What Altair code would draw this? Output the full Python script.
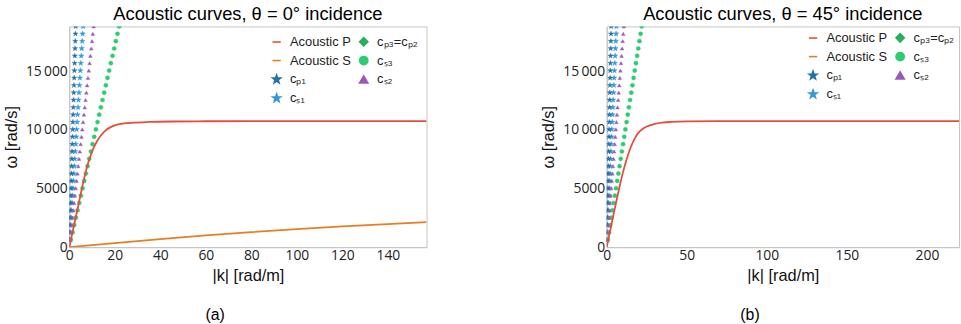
import altair as alt
import pandas as pd

# ---------------- data ----------------
omega_rows = [628, 1257, 1885, 2513, 3142, 3770, 4398, 5027, 5655, 6283,
              6912, 7540, 8168, 8796, 9425, 10053, 10681, 11310, 11938, 12566,
              13195, 13823, 14451, 15080, 15708, 16336, 16965, 17593, 18221, 18850]
k_cp1 = [0.09, 0.19, 0.28, 0.38, 0.47, 0.56, 0.66, 0.75, 0.84, 0.94,
         1.03, 1.13, 1.22, 1.31, 1.41, 1.50, 1.59, 1.69, 1.78, 1.88,
         1.97, 2.06, 2.16, 2.25, 2.34, 2.44, 2.53, 2.63, 2.72, 2.81]
k_cs1 = [0.20, 0.41, 0.61, 0.81, 1.01, 1.22, 1.42, 1.62, 1.82, 2.03,
         2.23, 2.43, 2.63, 2.84, 3.04, 3.24, 3.45, 3.65, 3.85, 4.05,
         4.26, 4.46, 4.66, 4.86, 5.07, 5.27, 5.47, 5.68, 5.88, 6.08]
k_cs2 = [0.36, 0.71, 1.07, 1.43, 1.79, 2.14, 2.50, 2.86, 3.21, 3.57,
         3.93, 4.28, 4.64, 5.00, 5.36, 5.71, 6.07, 6.43, 6.78, 7.14,
         7.50, 7.85, 8.21, 8.57, 8.93, 9.28, 9.64, 10.00, 10.35, 10.71]
k_cs3 = [0.73, 1.46, 2.19, 2.92, 3.65, 4.38, 5.11, 5.85, 6.58, 7.31,
         8.04, 8.77, 9.50, 10.23, 10.96, 11.69, 12.42, 13.15, 13.88, 14.61,
         15.34, 16.07, 16.80, 17.53, 18.26, 19.00, 19.73, 20.46, 21.19, 21.92]

# Acoustic P, theta = 0
kP_a = [0, 2, 4, 6, 8, 9, 10, 11, 12, 13, 14, 16, 18, 20, 24, 28, 35, 45, 60, 80, 110, 157]
wP_a = [0, 1800, 3600, 5400, 7000, 7600, 8150, 8600, 8980, 9300, 9560, 9970, 10230,
        10400, 10560, 10630, 10690, 10730, 10750, 10760, 10760, 10760]
# Acoustic S, theta = 0
kS_a = [0, 20, 40, 60, 80, 100, 120, 140, 157]
wS_a = [0, 350, 690, 1000, 1280, 1540, 1770, 1970, 2140]
# Acoustic P, theta = 45
kP_b = [0, 2, 4, 6, 8, 10, 12, 14, 16, 18, 20, 22, 25, 30, 35, 40, 50, 70, 120, 220]
wP_b = [0, 1300, 2600, 3900, 5150, 6300, 7300, 8150, 8850, 9400, 9800, 10050,
        10300, 10520, 10630, 10690, 10740, 10760, 10760, 10760]

S_P, S_S = "Acoustic P", "Acoustic S"
S_cp1, S_cs1 = "cₚ₁", "cₛ₁"
S_cp32, S_cs3, S_cs2 = "cₚ₃=cₚ₂", "cₛ₃", "cₛ₂"

# legend order (column-major, 2 columns)
series = [S_P, S_S, S_cp1, S_cs1, S_cp32, S_cs3, S_cs2]
colors = ["#e74c3c", "#e67e22", "#2471a3", "#3498db", "#27ae60", "#2ecc71", "#9b59b6"]
STAR = ("M0,-1L0.235,-0.324L0.951,-0.309L0.380,0.124L0.588,0.809L0,0.4"
        "L-0.588,0.809L-0.380,0.124L-0.951,-0.309L-0.235,-0.324Z")
shapes = ["stroke", "stroke", STAR, STAR, "diamond", "circle", "triangle-up"]
marker_sizes = {S_cp1: 30, S_cs1: 34, S_cs2: 14, S_cs3: 18}

rows = []
for name, ks in [(S_cp1, k_cp1), (S_cs1, k_cs1), (S_cs2, k_cs2), (S_cs3, k_cs3)]:
    for k, w in zip(ks, omega_rows):
        rows.append({"k": k, "w": w, "series": name, "sz": marker_sizes[name]})
points_df = pd.DataFrame(rows)

FONT = "Liberation Sans"
TICKFONT = "Open Sans"


def ylabel_expr():
    return ("datum.value >= 10000 ? replace(format(datum.value, ',d'), ',', '\u2009')"
            " : format(datum.value, 'd')")


def panel(title, caption, xmax, xticks, width, lines, leg_offset):
    xs = alt.Scale(domain=[0, xmax], nice=False, zero=True)
    ys = alt.Scale(domain=[0, 18850], nice=False)
    xax = alt.Axis(values=xticks, title="|k| [rad/m]", grid=False, ticks=False,
                   labelPadding=2, titlePadding=5, labelFlush=False, labelOverlap=False)
    yax = alt.Axis(values=[0, 5000, 10000, 15000], title="ω [rad/s]", grid=False,
                   ticks=False, labelPadding=2, titlePadding=6, labelExpr=ylabel_expr(),
                   labelOverlap=False)
    leg = alt.Legend(title=None, orient="top-right", columns=2, offset=leg_offset,
                     labelFont=FONT, labelFontSize=13, labelColor="#222",
                     symbolSize=70, symbolStrokeWidth=1.6, labelOffset=7,
                     columnPadding=5, rowPadding=4, padding=0, symbolOpacity=1)
    pts = alt.Chart(points_df).mark_point(filled=True, strokeWidth=0.4, opacity=1, clip=True).encode(
        x=alt.X("k:Q", scale=xs, axis=xax),
        y=alt.Y("w:Q", scale=ys, axis=yax),
        fill=alt.Fill("series:N", scale=alt.Scale(domain=series, range=colors), legend=leg),
        stroke=alt.Stroke("series:N", scale=alt.Scale(domain=series, range=colors), legend=leg),
        shape=alt.Shape("series:N", scale=alt.Scale(domain=series, range=shapes), legend=leg),
        size=alt.Size("sz:Q", scale=None),
        order=alt.Order("sz:Q", sort="descending"),
    )
    layers = [pts]
    for ks, ws, col in lines:
        df = pd.DataFrame({"k": ks, "w": ws})
        layers.append(
            alt.Chart(df).mark_line(color=col, strokeWidth=1.8, interpolate="monotone", clip=True).encode(
                x=alt.X("k:Q", scale=xs), y=alt.Y("w:Q", scale=ys)
            )
        )
    lay = alt.layer(*layers).properties(
        width=width, height=223,
        title=alt.TitleParams(title, fontSize=18.5, font=FONT, fontWeight="normal",
                              color="black", offset=3, anchor="middle"),
    )
    return alt.vconcat(lay, title=alt.TitleParams(caption, orient="bottom", fontSize=16, font=FONT,
                                                   fontWeight="normal", color="black",
                                                   offset=23, anchor="middle")).resolve_scale(
        fill="independent", stroke="independent", shape="independent"
    ).resolve_legend(fill="independent", stroke="independent", shape="independent")


pa = panel("Acoustic curves, θ = 0° incidence", "(a)", 157, [0, 20, 40, 60, 80, 100, 120, 140], 361,
           [(kS_a, wS_a, "#e67e22"), (kP_a, wP_a, "#e74c3c")], 9)
pb = panel("Acoustic curves, θ = 45° incidence", "(b)", 220, [0, 50, 100, 150, 200], 356,
           [(kP_b, wP_b, "#e74c3c")], 5)

chart = alt.hconcat(pa, pb, spacing=114).resolve_scale(
    x="independent", fill="independent", stroke="independent", shape="independent"
).resolve_legend(fill="independent", stroke="independent", shape="independent").properties(
    padding={"left": 3, "top": 3, "right": 1, "bottom": 2}, background="white"
).configure_view(stroke="#c4c4c4", strokeWidth=1).configure_axis(
    labelFont=TICKFONT, labelFontSize=14, labelColor="#222",
    titleFont=FONT, titleFontSize=16.5, titleFontWeight="normal", titleColor="#111",
    domainColor="#c4c4c4", domainWidth=1,
)

chart.save("out.html", embed_options={"renderer": "svg", "actions": False})
